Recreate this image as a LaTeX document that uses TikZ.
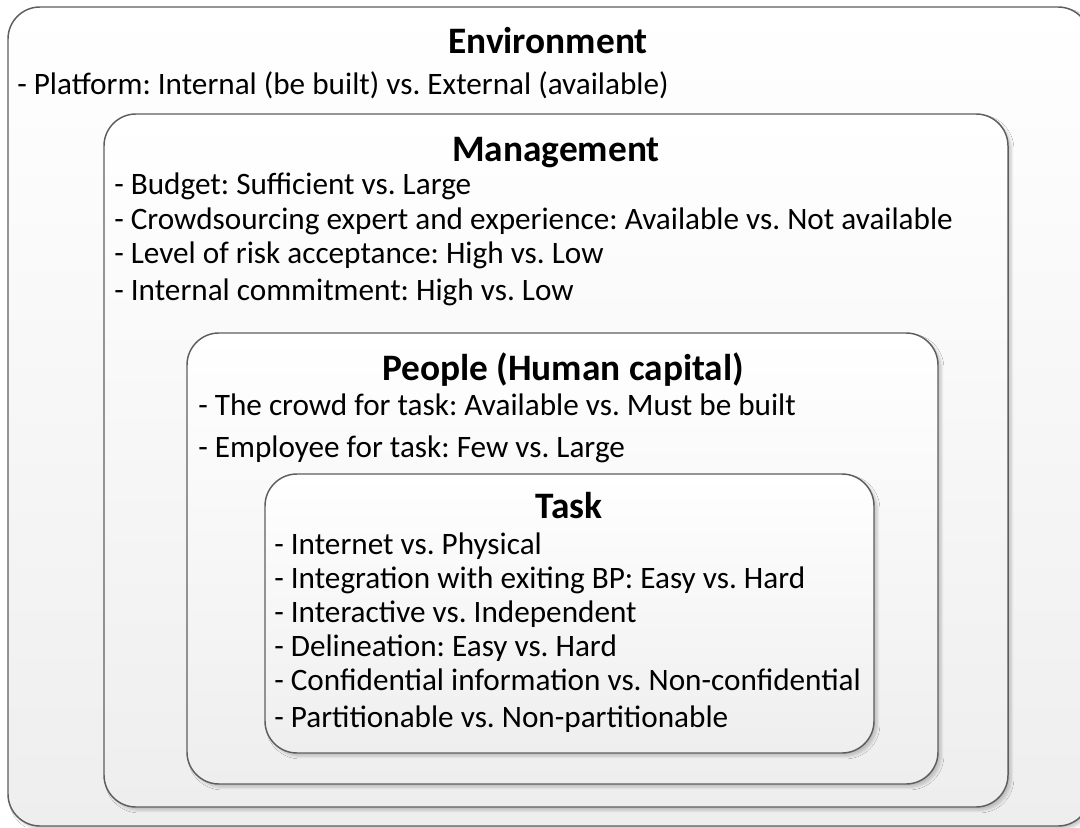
\documentclass[tikz,border=0pt]{standalone}
\usepackage{fontspec}
\setmainfont{Carlito}
\usetikzlibrary{shadows.blur}
\frenchspacing
\definecolor{edge}{HTML}{5E5E5E}
\definecolor{fillbot}{HTML}{EEEEEE}
\tikzset{
  layer/.style={draw=edge, line width=1.1pt, rounded corners=24pt,
    top color=white, bottom color=fillbot,
    blur shadow={shadow xshift=2.5pt, shadow yshift=-2.5pt, shadow blur steps=6, shadow opacity=20}},
  heading/.style={font=\fontsize{28}{32}\selectfont\bfseries, anchor=base, inner sep=0pt},
  item/.style={font=\fontsize{23.4}{27}\selectfont, anchor=base west, inner sep=0pt}
}
\begin{document}
\begin{tikzpicture}[x=0.75pt, y=-0.75pt]
\useasboundingbox (0,0) rectangle (1080,827);
\clip (0,0) rectangle (1080,827);
\fill[white] (0,0) rectangle (1080,827);
% nested layers, outermost first
\path[layer] (8,7) rectangle (1090,826);
\path[layer] (104,114) rectangle (1008,807);
\path[layer] (187,333) rectangle (938,784);
\path[layer] (265,474) rectangle (874,753);
% environment
\node[heading] (env) at (548,54) {Environment};
\node[item] (env1) at (17,95) {- Platform: Internal (be built) vs. External (available)};
% management
\node[heading] (mgt) at (556,162) {Management};
\node[item] (mgt1) at (114,195) {- Budget: Sufficient vs. Large};
\node[item] (mgt2) at (114,229) {- Crowdsourcing expert and experience: Available vs. Not available};
\node[item] (mgt3) at (114,263) {- Level of risk acceptance: High vs. Low};
\node[item] (mgt4) at (114,300) {- Internal commitment: High vs. Low};
% people
\node[heading] (ppl) at (563,380) {People (Human capital)};
\node[item] (ppl1) at (198,415) {- The crowd for task: Available vs. Must be built};
\node[item] (ppl2) at (198,457) {- Employee for task: Few vs. Large};
% task
\node[heading] (tsk) at (569,518) {Task};
\node[item] (tsk1) at (274,554) {- Internet vs. Physical};
\node[item] (tsk2) at (274,588) {- Integration with exiting BP: Easy vs. Hard};
\node[item] (tsk3) at (274,622) {- Interactive vs. Independent};
\node[item] (tsk4) at (274,656) {- Delineation: Easy vs. Hard};
\node[item] (tsk5) at (274,690) {- Confidential information vs. Non-confidential};
\node[item] (tsk6) at (274,727) {- Partitionable vs. Non-partitionable};
\end{tikzpicture}
\end{document}
